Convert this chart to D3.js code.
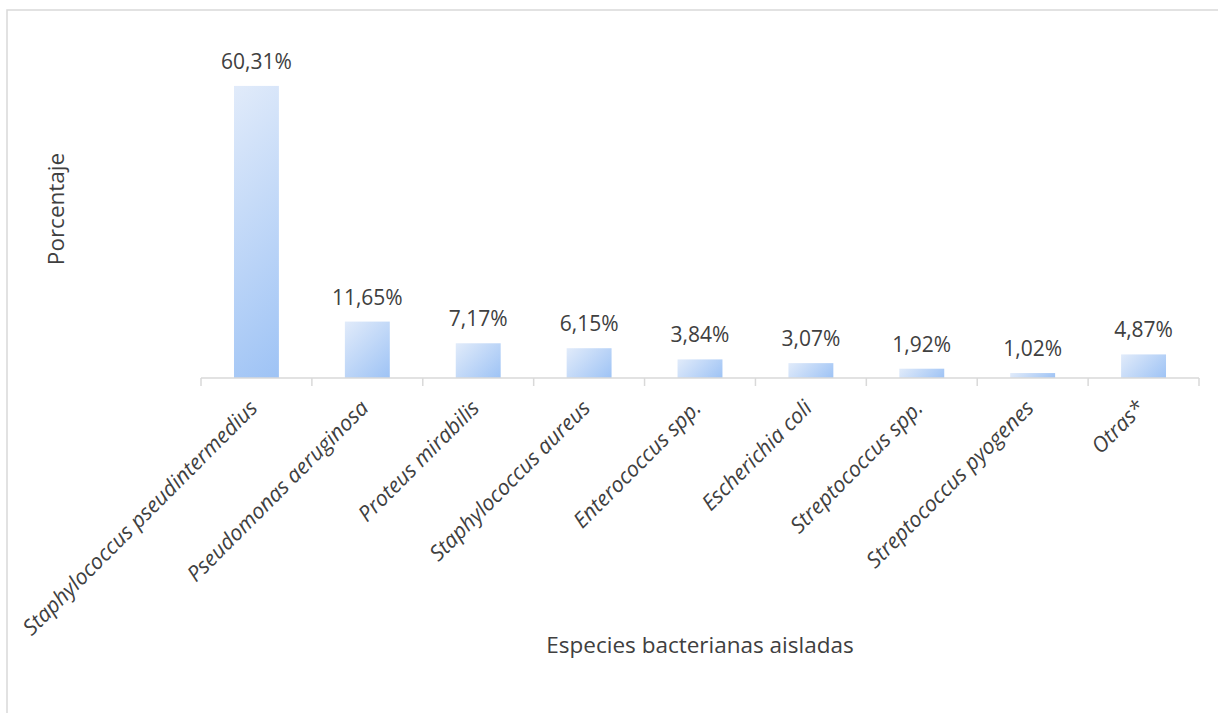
<!DOCTYPE html>
<html><head><meta charset="utf-8">
<script src="https://cdn.jsdelivr.net/npm/d3@7"></script>
<style>body{margin:0;background:#fff;} svg{display:block;}</style>
</head><body>
<svg id="c" width="1218" height="713"></svg>
<script>
const categories = ["Staphylococcus pseudintermedius","Pseudomonas aeruginosa","Proteus mirabilis","Staphylococcus aureus","Enterococcus spp.","Escherichia coli","Streptococcus spp.","Streptococcus pyogenes","Otras*"];
const values = [60.31, 11.65, 7.17, 6.15, 3.84, 3.07, 1.92, 1.02, 4.87];
const valueLabels = ["60,31%","11,65%","7,17%","6,15%","3,84%","3,07%","1,92%","1,02%","4,87%"];
const xTitle = "Especies bacterianas aisladas";
const yTitle = "Porcentaje";

const svg = d3.select("#c");
const font = "'Open Sans', sans-serif";
const txt = "#404040";

svg.append("rect").attr("x",7).attr("y",10).attr("width",1400).attr("height",900)
  .attr("fill","#fff").attr("stroke","#d9d9d9").attr("stroke-width",1.5);

const x = d3.scaleBand().domain(categories).range([201,1199]).paddingInner(0.595).paddingOuter(0.2975);
const y = d3.scaleLinear().domain([0,70]).range([378,39]);
const step = x.step();

const defs = svg.append("defs");
values.forEach((d,i)=>{
  const bx = x(categories[i]), by = y(d), w = x.bandwidth(), h = y(0)-y(d);
  const s = (w+h)/2;
  const g = defs.append("linearGradient").attr("id","grad"+i).attr("gradientUnits","userSpaceOnUse")
    .attr("x1",bx).attr("y1",by).attr("x2",bx+s).attr("y2",by+s);
  g.append("stop").attr("offset","0%").attr("stop-color","#e1ebfa");
  g.append("stop").attr("offset","100%").attr("stop-color","#9ec3f5");
});

svg.selectAll("rect.bar").data(values).join("rect").attr("class","bar")
  .attr("x",(d,i)=>x(categories[i])).attr("width",x.bandwidth())
  .attr("y",d=>y(d)).attr("height",d=>y(0)-y(d)).attr("fill",(d,i)=>`url(#grad${i})`);

svg.selectAll("text.val").data(values).join("text").attr("class","val")
  .attr("x",(d,i)=>x(categories[i])+x.bandwidth()/2).attr("y",d=>y(d)-17)
  .attr("text-anchor","middle").attr("font-family",font).attr("font-size",21)
  .attr("fill",txt).text((d,i)=>valueLabels[i]);

// axis
const axisG = svg.append("g");
axisG.append("line").attr("x1",201).attr("x2",1199).attr("y1",y(0)).attr("y2",y(0))
  .attr("stroke","#d9d9d9").attr("stroke-width",1.5);
const bounds = d3.range(categories.length+1).map(i=>201+i*step);
axisG.selectAll("line.tick").data(bounds).join("line").attr("class","tick")
  .attr("x1",d=>d).attr("x2",d=>d).attr("y1",y(0)).attr("y2",y(0)+8)
  .attr("stroke","#d9d9d9").attr("stroke-width",1.5);

svg.selectAll("text.cat").data(categories).join("text").attr("class","cat")
  .attr("transform",d=>`translate(${x(d)+x.bandwidth()/2-9},${y(0)+20}) rotate(-45)`)
  .attr("text-anchor","end").attr("dy","0.75em")
  .attr("font-family",font).attr("font-style","italic").attr("font-size",21.5)
  .attr("fill",txt).text(d=>d);

svg.append("text").attr("x",700).attr("y",653).attr("text-anchor","middle")
  .attr("font-family",font).attr("font-size",22.5).attr("fill",txt).text(xTitle);
svg.append("text").attr("transform","translate(64,209) rotate(-90)").attr("text-anchor","middle")
  .attr("font-family",font).attr("font-size",22.5).attr("fill",txt).text(yTitle);
</script>
</body></html>
